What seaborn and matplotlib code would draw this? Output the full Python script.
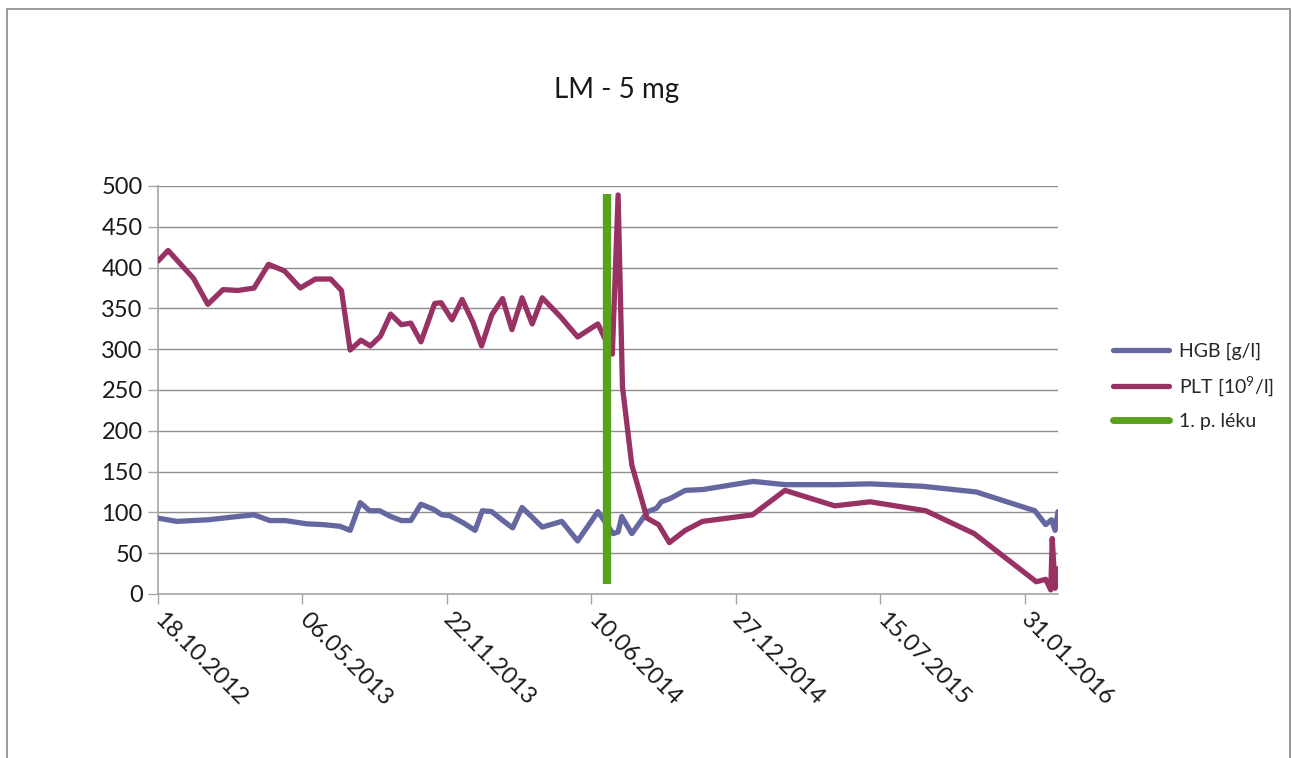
import matplotlib
matplotlib.use("Agg")
import matplotlib.pyplot as plt
import matplotlib.dates as mdates
from matplotlib.patches import Rectangle
from matplotlib.lines import Line2D
import seaborn as sns
import pandas as pd
import numpy as np

# ---- data (days after 18.10.2012) ----
start_date = "2012-10-18"
hgb_days = [0, 26, 70, 100, 133, 155, 176, 206, 229, 252, 266, 280, 293, 307, 322, 337, 350,
            364, 381, 393, 404, 423, 439, 449, 462, 476, 491, 504, 517, 532, 559, 581, 609,
            630, 637, 642, 656, 678, 690, 697, 709, 730, 754, 824, 868, 940, 986, 1059, 1133,
            1214, 1229, 1237, 1242, 1246]
hgb_values = [93, 89, 91, 94, 97, 90, 90, 86, 85, 83, 78, 112, 102, 102, 95, 90, 90,
              110, 104, 97, 96, 87, 78, 102, 101, 91, 81, 106, 95, 82, 89, 65, 101,
              74, 76, 95, 74, 101, 105, 113, 117, 127, 128, 138, 134, 134, 135, 132, 125,
              102, 85, 91, 78, 101]
plt_days = [0, 14, 49, 69, 90, 111, 133, 153, 175, 197, 218, 239, 254, 266, 281, 294, 308,
            322, 337, 350, 364, 383, 392, 407, 421, 436, 448, 462, 477, 490, 504, 518, 532,
            557, 581, 609, 629, 637, 643, 656, 677, 693, 708, 730, 754, 823, 868, 937, 986,
            1063, 1130, 1216, 1229, 1236, 1238, 1242, 1246]
plt_values = [408, 421, 387, 355, 373, 372, 375, 404, 396, 375, 386, 386, 372, 299, 311, 304, 316,
              343, 330, 332, 309, 356, 357, 336, 361, 333, 304, 342, 362, 324, 363, 331, 363,
              340, 315, 331, 294, 489, 254, 158, 93, 85, 63, 78, 89, 97, 127, 108, 113,
              102, 74, 15, 18, 5, 68, 7, 31]
marker_days = [621, 621]
marker_values = [12, 490]
axis_end_day = 1246
tick_step_days = 200
series_labels = ["HGB [g/l]", "PLT [10$^{9}$/l]", "1. p. léku"]
title_text = "LM - 5 mg"

# ---- style ----
sns.set_theme(style="white")
plt.rcParams["font.family"] = ["Lato", "DejaVu Sans"]
plt.rcParams["mathtext.fontset"] = "custom"
plt.rcParams["mathtext.rm"] = "Lato"
plt.rcParams["mathtext.default"] = "regular"

c_hgb = "#6567A0"
c_plt = "#993264"
c_mark = "#58A21E"
grid_c = "#8E8E8E"
axis_c = "#A6A6A6"

t0 = pd.Timestamp(start_date)
hgb_df = pd.DataFrame({"date": t0 + pd.to_timedelta(hgb_days, unit="D"), "value": hgb_values})
plt_df = pd.DataFrame({"date": t0 + pd.to_timedelta(plt_days, unit="D"), "value": plt_values})
mark_df = pd.DataFrame({"date": t0 + pd.to_timedelta(marker_days, unit="D"), "value": marker_values})

fig = plt.figure(figsize=(12.92, 7.58), dpi=100)
ax = fig.add_axes([158 / 1292, (758 - 594) / 758, 900 / 1292, 408 / 758])

lw = 3.8
sns.lineplot(data=hgb_df, x="date", y="value", ax=ax, color=c_hgb, linewidth=lw,
             estimator=None, sort=False, zorder=3)
sns.lineplot(data=plt_df, x="date", y="value", ax=ax, color=c_plt, linewidth=lw,
             estimator=None, sort=False, zorder=4)
sns.lineplot(data=mark_df, x="date", y="value", ax=ax, color=c_mark, linewidth=6.0,
             estimator=None, sort=False, zorder=5, solid_capstyle="butt")

ax.set_xlim(t0, t0 + pd.Timedelta(days=axis_end_day))
ax.set_ylim(0, 500)
ax.set_yticks(np.arange(0, 501, 50))
xt = [t0 + pd.Timedelta(days=d) for d in range(0, axis_end_day + 1, tick_step_days)]
ax.set_xticks(xt)
ax.set_xticklabels([d.strftime("%d.%m.%Y") for d in xt], rotation=-45, ha="left",
                   va="center", rotation_mode="anchor", fontsize=17, color="#1a1a1a")
ax.tick_params(axis="y", labelsize=17, labelcolor="#1a1a1a", length=7, width=1,
               color=axis_c, left=True, pad=4)
ax.tick_params(axis="x", length=7, width=1, color=axis_c, bottom=True, pad=9)
ax.set_xlabel("")
ax.set_ylabel("")

ax.yaxis.grid(True, color=grid_c, linewidth=1.0)
ax.set_axisbelow(True)
for s in ["top", "right"]:
    ax.spines[s].set_visible(False)
ax.spines["left"].set_color(axis_c)
ax.spines["bottom"].set_color(axis_c)
ax.spines["left"].set_linewidth(1.2)
ax.spines["bottom"].set_linewidth(1.2)

fig.text(617 / 1292, (758 - 90) / 758, title_text, ha="center", va="center",
         fontsize=20, color="#1a1a1a")

handles = [Line2D([], [], color=c_hgb, linewidth=lw),
           Line2D([], [], color=c_plt, linewidth=lw),
           Line2D([], [], color=c_mark, linewidth=5.0)]
fig.legend(handles, series_labels, loc="center left",
           bbox_to_anchor=(1113 / 1292, (758 - 386) / 758), frameon=False,
           fontsize=14, handlelength=2.9, handletextpad=0.5, labelspacing=0.75,
           borderpad=0, borderaxespad=0)

fig.patches.append(Rectangle((7 / 1292, -0.05), (1290 - 7) / 1292, 1.05 - 9.5 / 758,
                             transform=fig.transFigure, fill=False,
                             edgecolor="#8A8A8A", linewidth=1.2))

fig.savefig("out.png", dpi=100)
